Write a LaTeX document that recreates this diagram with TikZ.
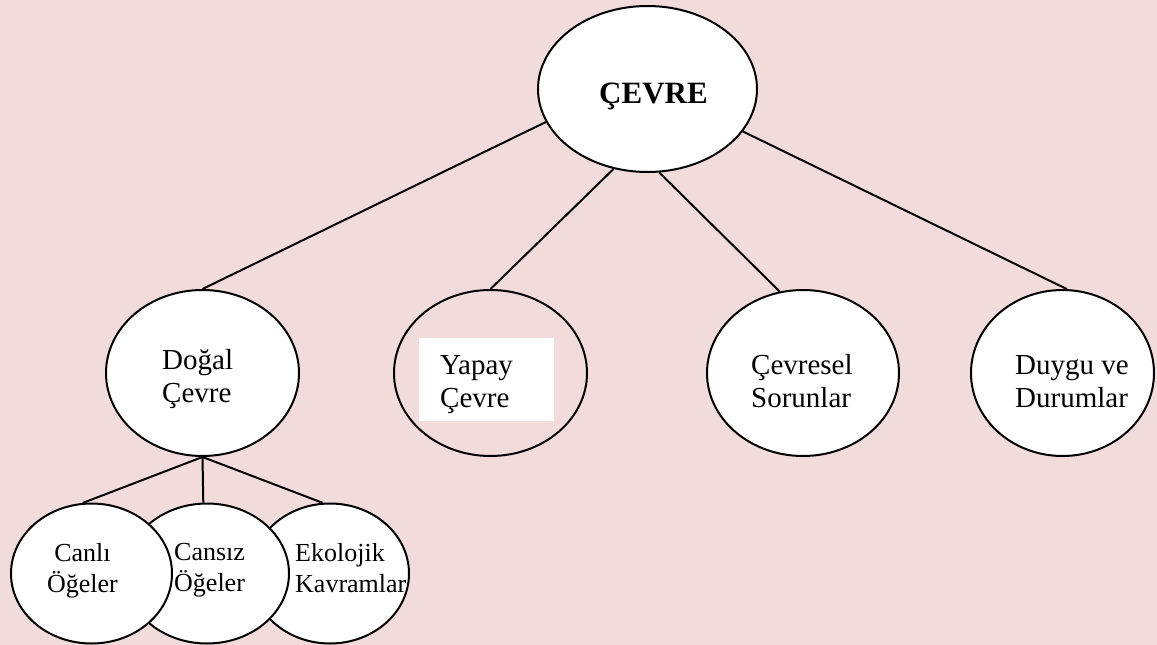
\documentclass[tikz,border=0pt]{standalone}
\usepackage{fontspec}
\setmainfont{Liberation Serif}
\usetikzlibrary{shapes.geometric}
\definecolor{bgpink}{HTML}{F2DCDB}
\begin{document}
\begin{tikzpicture}[x=1pt,y=-1pt,
  ell/.style={ellipse, draw=black, line width=2pt, fill=white, inner sep=0pt},
  ellbig/.style={ell, minimum width=193pt, minimum height=166pt},
  ellsmall/.style={ell, minimum height=140pt},
  conn/.style={draw=black, line width=2pt},
  lbl/.style={inner sep=0pt, font=\fontsize{29}{33}\selectfont, align=left, anchor=base west},
  slbl/.style={inner sep=0pt, font=\fontsize{26}{31}\selectfont, align=left, anchor=base west}]
\fill[bgpink] (0,0) rectangle (1157,645);
\useasboundingbox (0,0) rectangle (1157,645);

% top node
\node[ell, minimum width=219pt, minimum height=166pt] (cevre) at (647.5,89) {};
% second level
\node[ellbig] (dogal) at (202.5,373) {};
\node[ellbig, fill=none] (yapay) at (490.5,373) {};
\node[ellbig, minimum width=192pt] (cevresel) at (803,373) {};
\node[ellbig, minimum width=183pt] (duygu) at (1062.5,373) {};
% third level (drawn back to front)
\node[ellsmall, minimum width=158pt] (ekolojik) at (330,573.5) {};
\node[ellsmall, minimum width=164pt] (cansiz) at (207,573.5) {};
\node[ellsmall, minimum width=161pt] (canli) at (91.5,573.5) {};

% connectors
\draw[conn] (cevre.198) -- (dogal.north);
\draw[conn] (cevre.247) -- (yapay.north);
\draw[conn] (cevre.278) -- (cevresel.106);
\draw[conn] (cevre.336) -- (duygu.87);
\draw[conn] (dogal.south) -- (canli.97);
\draw[conn] (dogal.south) -- (cansiz.93);
\draw[conn] (dogal.south) -- (ekolojik.96);

% labels (base anchor = baseline of the last line)
\node[lbl, font=\fontsize{31}{35}\selectfont\bfseries] (cevreT) at (599,103) {ÇEVRE};
\node[lbl] (dogalT) at (162,402.7) {Doğal\\Çevre};
\node[fill=white, inner sep=0pt, minimum width=135pt, minimum height=83pt, anchor=north west] (yapayBox) at (419,338) {};
\node[lbl] (yapayT) at (440,407.7) {Yapay\\Çevre};
\node[lbl] (cevreselT) at (751,407.7) {Çevresel\\Sorunlar};
\node[lbl] (duyguT) at (1015,407.3) {Duygu ve\\Durumlar};
\node[slbl, align=center, anchor=base] (canliT) at (82.5,592.7) {Canlı\\Öğeler};
\node[slbl] (cansizT) at (174,591.7) {Cansız\\Öğeler};
\node[slbl] (ekolojikT) at (295,592) {Ekolojik\\Kavramlar};
\end{tikzpicture}
\end{document}
